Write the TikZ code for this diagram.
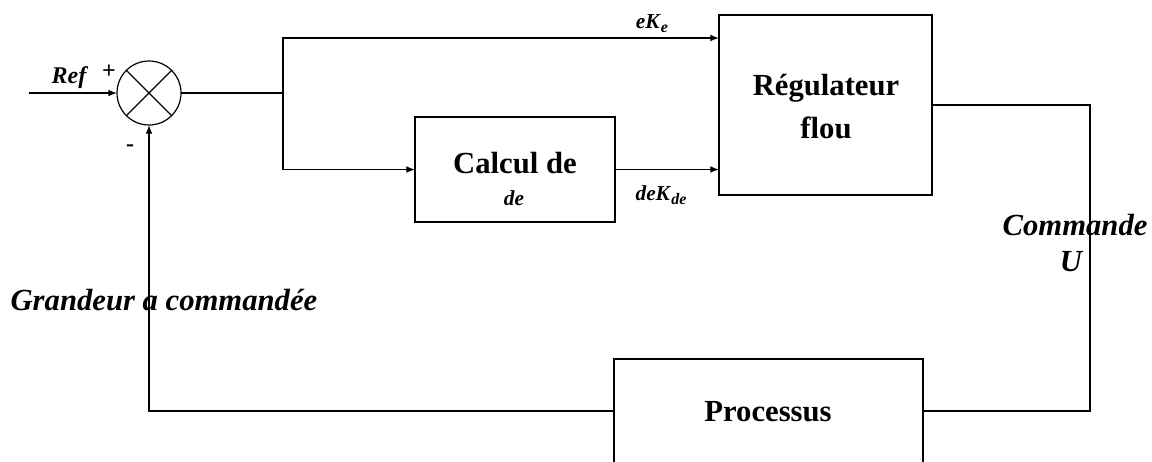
\documentclass[tikz,border=0pt]{standalone}
\usepackage{fontspec}
\setmainfont{Liberation Serif}
\usetikzlibrary{arrows.meta}
\begin{document}
\begin{tikzpicture}[x=0.75pt,y=-0.75pt,
  line width=0.9pt,
  blk/.style={draw,rectangle,inner sep=0pt,outer sep=0pt},
  btxt/.style={inner sep=0pt,font=\fontsize{23}{30}\selectfont\bfseries},
  sumnode/.style={draw,circle,minimum size=48pt,inner sep=0pt,outer sep=0pt},
  arr/.style={-{Latex[length=6.5pt,width=5pt]}},
  lbl/.style={inner sep=0pt,font=\fontsize{23}{28}\selectfont\bfseries\itshape},
  sig/.style={inner sep=0pt,font=\fontsize{16}{18}\selectfont\bfseries\itshape}]
\useasboundingbox (0,0) rectangle (1152,461);
\clip (0,0) rectangle (1152,461);
% blocks
\node[sumnode] (sum) at (149,93) {};
\draw (sum.45) -- (sum.225) (sum.135) -- (sum.315);
\node[blk,minimum width=159.75pt,minimum height=135pt] (reg) at (825.5,105) {};
\node[btxt] (reg1) at (826,88) {R\'egulateur};
\node[btxt] (reg2) at (826,128) {flou};
\node[blk,minimum width=150pt,minimum height=78.75pt] (calc) at (515,169.5) {};
\node[btxt] (calc1) at (515,163) {Calcul de};
\node[inner sep=0pt,font=\fontsize{16}{18}\selectfont\bfseries\itshape] (calc2) at (514,198) {de};
\node[blk,minimum width=231.75pt,minimum height=78pt] (proc) at (768.5,411) {};
\node[btxt] (proc1) at (768,412) {Processus};
% coordinates
\coordinate (refin) at (29,93);
\coordinate (j) at (283,93);
\coordinate (cr) at (1090,105);
% connectors
\draw[arr] (refin) -- (sum.west);
\draw (sum.east) -- (j);
\draw[arr] (j) |- ([yshift=50.25pt]reg.west);
\draw[arr] (j) |- (calc.west);
\draw[arr] (calc.east) -- (reg.west |- calc.east);
\draw (reg.east) -- (cr) |- (proc.east);
\draw[arr] (proc.west) -| (sum.south);
% labels
\node[inner sep=0pt,font=\fontsize{18}{20}\selectfont\bfseries\itshape] (lref) at (69,78) {Ref};
\node[inner sep=0pt,font=\fontsize{18}{20}\selectfont\bfseries] (lplus) at (109,72) {+};
\node[inner sep=0pt,font=\fontsize{18}{20}\selectfont\bfseries] (lminus) at (130,148) {-};
\node[sig] (lek) at (652,24) {eK\kern1pt\raisebox{-0.4ex}{\fontsize{12}{13}\selectfont e}};
\node[sig] (ldek) at (661,195) {deK\kern1pt\raisebox{-0.4ex}{\fontsize{12}{13}\selectfont de}};
\node[lbl,anchor=west] (lcmd) at (1002,225) {Commande};
\node[lbl] (lu) at (1071,262) {U};
\node[lbl,anchor=west] (lgr) at (10,300) {Grandeur a command\'ee};
\end{tikzpicture}
\end{document}
